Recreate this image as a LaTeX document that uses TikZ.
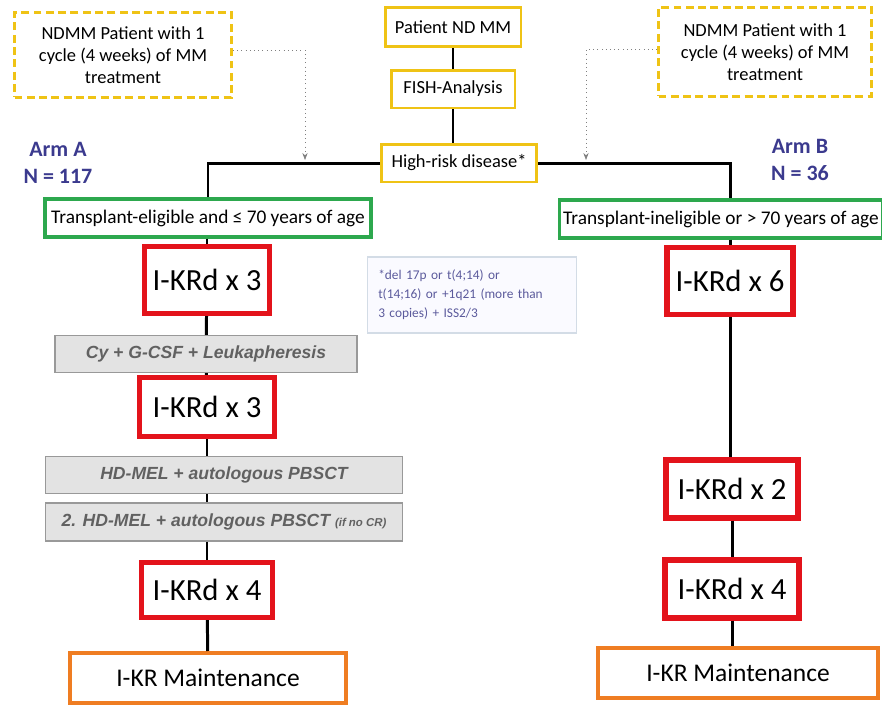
\documentclass[tikz,border=0pt]{standalone}
\usepackage{fontspec}
\setmainfont{Carlito}
\newfontfamily\arialfont{Liberation Sans}
\usetikzlibrary{arrows.meta}

\definecolor{boxyellow}{HTML}{EFC315}
\definecolor{boxgreen}{HTML}{2DA84E}
\definecolor{boxred}{HTML}{E3131B}
\definecolor{boxorange}{HTML}{EF7D22}
\definecolor{armblue}{HTML}{3B3A8E}
\definecolor{notetext}{HTML}{5B5A9C}
\definecolor{noteframe}{HTML}{D3DCE6}

\begin{document}
\begin{tikzpicture}[x=0.02cm, y=-0.02cm,
  every node/.style={inner sep=2pt, align=center},
  yellowbox/.style={draw=boxyellow, line width=1.7pt, fill=white, font=\fontsize{10.5}{12.5}\selectfont},
  dashbox/.style={yellowbox, dash pattern=on 4.5pt off 2.5pt},
  greenbox/.style={draw=boxgreen, line width=1.8pt, fill=white, font=\fontsize{11}{13}\selectfont},
  redbox/.style={draw=boxred, line width=2.9pt, fill=white, font=\fontsize{17.5}{20}\selectfont},
  greybox/.style={draw=gray!80, line width=0.8pt, fill=gray!22, text=black!62, font=\arialfont\bfseries\itshape\fontsize{10}{12}\selectfont},
  maintbox/.style={draw=boxorange, line width=2.3pt, fill=white, font=\fontsize{14.5}{16}\selectfont},
  armlabel/.style={text=armblue, font=\bfseries\fontsize{12.5}{15}\selectfont},
  link/.style={line width=1.7pt},
  hint/.style={gray, thin, dotted, -{Stealth[length=4pt]}}
]

\useasboundingbox (0,0) rectangle (882,704);

% top boxes
\node[dashbox, minimum width=4.34cm, minimum height=1.70cm] (dashA) at (123,55) {NDMM Patient with 1\\cycle (4 weeks) of MM\\treatment};
\node[dashbox, minimum width=4.26cm, minimum height=1.78cm] (dashB) at (765,52) {NDMM Patient with 1\\cycle (4 weeks) of MM\\treatment};
\node[yellowbox, minimum width=2.72cm, minimum height=0.78cm] (ptnt) at (453,27) {Patient ND MM};
\node[yellowbox, minimum width=2.48cm, minimum height=0.76cm] (fish) at (453,89) {FISH-Analysis};
\node[yellowbox, minimum width=3.12cm, minimum height=0.76cm] (hrisk) at (459,163) {High-risk disease*};

\node[armlabel] (armA) at (58,163) {Arm A\\N = 117};
\node[armlabel] (armB) at (800,160) {Arm B\\N = 36};

\node[greenbox, minimum width=6.52cm, minimum height=0.76cm] (grnA) at (208,218) {Transplant-eligible and ≤ 70 years of age};
\node[greenbox, minimum width=6.36cm, minimum height=0.76cm] (grnB) at (721,219) {Transplant-ineligible or > 70 years of age};

\node[draw=noteframe, fill=blue!2!white, line width=0.6pt, minimum width=4.18cm, minimum height=1.52cm,
  text width=3.75cm, align=left, text=notetext, font=\fontsize{7.6}{10.8}\selectfont] (note) at (472,295)
  {*del 17p or t(4;14) or\\t(14;16) or +1q21 (more than\\3 copies) + ISS2/3};

% arm A
\node[redbox, minimum width=2.50cm, minimum height=1.34cm] (ikrdA1) at (207,280) {I-KRd x 3};
\node[greybox, minimum width=6.04cm, minimum height=0.74cm] (cyto) at (206,354) {Cy + G-CSF + Leukapheresis};
\node[redbox, minimum width=2.70cm, minimum height=1.18cm] (ikrdA2) at (207,407) {I-KRd x 3};
\node[greybox, minimum width=7.14cm, minimum height=0.74cm] (hdmel) at (224,475) {HD-MEL + autologous PBSCT};
\node[greybox, minimum width=7.14cm, minimum height=0.76cm] (hdmelB) at (224,522) {2. HD-MEL + autologous PBSCT {\fontsize{6.5}{8}\selectfont (if no CR)}};
\node[redbox, minimum width=2.62cm, minimum height=1.10cm] (ikrdA3) at (207,590) {I-KRd x 4};
\node[maintbox, minimum width=5.54cm, minimum height=1.00cm] (maintA) at (208,678) {I-KR Maintenance};

% arm B
\node[redbox, minimum width=2.52cm, minimum height=1.34cm] (ikrdB1) at (730,281) {I-KRd x 6};
\node[redbox, minimum width=2.64cm, minimum height=1.16cm] (ikrdB2) at (732,489) {I-KRd x 2};
\node[redbox, minimum width=2.68cm, minimum height=1.16cm] (ikrdB3) at (732,589) {I-KRd x 4};
\node[maintbox, minimum width=5.60cm, minimum height=1.00cm] (maintB) at (738,673) {I-KR Maintenance};

\begin{scope}[link]
\draw (ptnt) -- (fish);
\draw (fish.south) -- (fish.south |- hrisk.north);
\draw (hrisk.west) -| (grnA.north); %split A
\draw (hrisk.east) -| (ikrdB1.north |- grnB.north); %split B
\draw (ikrdA1.north |- grnA.south) -- (ikrdA1.north);
\draw (ikrdA1) -- (cyto);
\draw (cyto) -- (ikrdA2);
\draw (ikrdA2.south) -- (ikrdA2.south |- hdmel.north);
\draw (ikrdA2.south |- hdmel.south) -- (ikrdA2.south |- hdmelB.north);
\draw (ikrdA3.north |- hdmelB.south) -- (ikrdA3.north);
\draw (ikrdA3) -- (maintA);
\draw (ikrdB1.north |- grnB.south) -- (ikrdB1.north);
\draw (ikrdB1.south) -- (ikrdB1.south |- ikrdB2.north);
\draw (ikrdB2) -- (ikrdB3);
\draw (ikrdB3.south) -- (ikrdB3.south |- maintB.north);
\end{scope}

\coordinate (tipA) at (305,160);
\coordinate (tipB) at (586,160);
\draw[hint] ([yshift=1mm]dashA.east) -| (tipA);
\draw[hint] ([yshift=0.5mm]dashB.west) -| (tipB);

\end{tikzpicture}
\end{document}
